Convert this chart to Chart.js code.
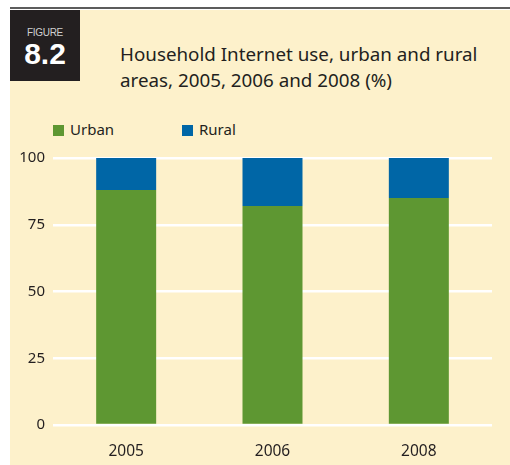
<!DOCTYPE html>
<html>
<head>
<meta charset="utf-8">
<script src="https://cdn.jsdelivr.net/npm/chart.js@4"></script>
<style>
  body { margin: 0; background: #fff; }
  #wrap { position: relative; width: 510px; height: 465px; overflow: hidden; font-family: "Noto Sans", sans-serif; }
  #topline { position: absolute; left: 10px; top: 7px; width: 500px; height: 2px; background: #5c5c5c; }
  #panel { position: absolute; left: 10px; top: 10px; width: 500px; height: 455px; background: #fdf1cb; }
  #figbox { position: absolute; left: 10px; top: 10px; width: 70px; height: 71px; background: #231f20; color: #fff; font-family: "Liberation Sans", Arial, sans-serif; text-align: center; }
  #figbox .lab { position: absolute; left: 0; width: 70px; top: 17px; font-size: 10px; color: #d0d0d0; letter-spacing: -0.3px; }
  #figbox .num { position: absolute; left: 0; width: 70px; top: 27px; font-size: 30px; font-weight: bold; }
  #title { position: absolute; left: 120px; top: 41px; font-size: 18.8px; line-height: 26px; color: #231f20; }
  #legend { position: absolute; top: 119px; left: 53px; font-size: 15px; color: #231f20; }
  #legend span.item { position: absolute; white-space: nowrap; }
  #legend i { display: inline-block; width: 11px; height: 11px; margin-right: 6px; vertical-align: -1px; }
  canvas { position: absolute; left: 0; top: 0; }
</style>
</head>
<body>
<div id="wrap">
  <div id="topline"></div>
  <div id="panel"></div>
  <div id="figbox"><div class="lab">FIGURE</div><div class="num">8.2</div></div>
  <div id="title">Household Internet use, urban and rural<br>areas, 2005, 2006 and 2008 (%)</div>
  <div id="legend"></div>
  <canvas id="chart" width="510" height="465"></canvas>
</div>
<script>
const years = ['2005', '2006', '2008'];
const urban = [88, 82, 85];
const rural = [12, 18, 15];
const yTicks = [0, 25, 50, 75, 100];
const seriesNames = ['Urban', 'Rural'];
const seriesColors = ['#5e9732', '#0066a6'];

// legend in html
const legend = document.getElementById('legend');
const legendX = [0, 129];
seriesNames.forEach((name, i) => {
  const s = document.createElement('span');
  s.className = 'item';
  s.style.left = legendX[i] + 'px';
  s.innerHTML = '<i style="background:' + seriesColors[i] + '"></i>' + name;
  legend.appendChild(s);
});

const ctx = document.getElementById('chart').getContext('2d');
Chart.defaults.font.family = '"Noto Sans", sans-serif';
Chart.defaults.color = '#231f20';

new Chart(ctx, {
  type: 'bar',
  data: {
    labels: years,
    datasets: [
      { label: seriesNames[0], data: urban, backgroundColor: seriesColors[0] },
      { label: seriesNames[1], data: rural, backgroundColor: seriesColors[1] }
    ]
  },
  options: {
    responsive: false,
    animation: false,
    layout: { padding: { top: 158, right: 18, left: 0, bottom: 0 } },
    plugins: { legend: { display: false }, tooltip: { enabled: false } },
    datasets: { bar: { categoryPercentage: 1, barPercentage: 0.41 } },
    scales: {
      x: {
        stacked: true,
        grid: { display: false },
        border: { display: false },
        ticks: { font: { size: 15.5 }, padding: 9 },
        afterFit: s => { s.height = 40; }
      },
      y: {
        stacked: true,
        min: 0,
        max: 100,
        afterBuildTicks: s => { s.ticks = yTicks.map(v => ({ value: v })); },
        grid: { color: '#ffffff', lineWidth: 2.5, drawTicks: false },
        border: { display: false },
        ticks: { font: { size: 15 }, padding: 8 },
        afterFit: s => { s.width = 53; }
      }
    }
  }
});
</script>
</body>
</html>
